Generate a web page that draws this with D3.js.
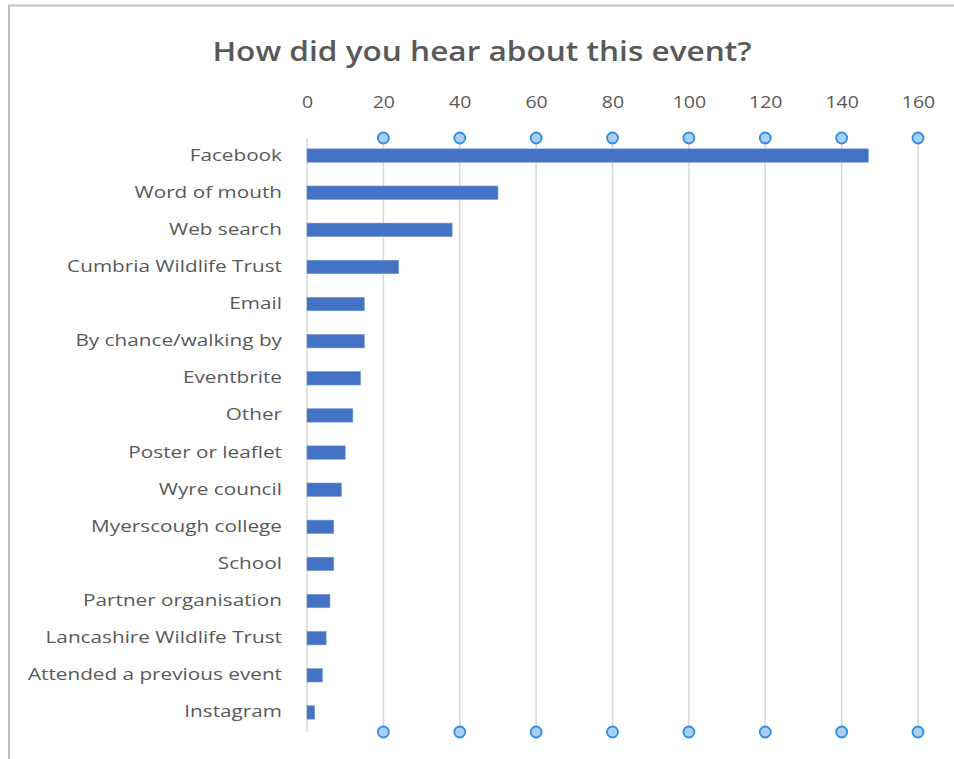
<!DOCTYPE html>
<html>
<head>
<meta charset="utf-8">
<script src="https://cdn.jsdelivr.net/npm/d3@7"></script>
<style>
  html, body { margin: 0; padding: 0; background: #fff; }
  svg { display: block; }
  text { font-family: "Open Sans", "Noto Sans", sans-serif; fill: #595959; }
</style>
</head>
<body>
<svg id="chart" width="954" height="759"></svg>
<script>
const title = "How did you hear about this event?";
const categories = [
  "Facebook", "Word of mouth", "Web search", "Cumbria Wildlife Trust", "Email",
  "By chance/walking by", "Eventbrite", "Other", "Poster or leaflet", "Wyre council ",
  "Myerscough college", "School", "Partner organisation", "Lancashire Wildlife Trust",
  "Attended a previous event", "Instagram"
];
const values = [147, 50, 38, 24, 15, 15, 14, 12, 10, 9, 7, 7, 6, 5, 4, 2];
const tickValues = [0, 20, 40, 60, 80, 100, 120, 140, 160];
const markerTicks = [20, 40, 60, 80, 100, 120, 140, 160];

const svg = d3.select("#chart");
const margin = { left: 307, right: 36, top: 138, bottom: 27 };
const W = 954, H = 759;
const stretch = 1.22; // reference text is horizontally wide

// frame
svg.append("path")
  .attr("d", `M9,${H} V5.5 H${W}`)
  .attr("fill", "none").attr("stroke", "#bfbfbf").attr("stroke-width", 2);

const x = d3.scaleLinear().domain([0, 160]).range([margin.left, W - margin.right]);
const y = d3.scaleBand().domain(categories).range([margin.top, H - margin.bottom])
  .paddingInner(0.64).paddingOuter(0.32);

// title
svg.append("g").attr("transform", `translate(482,61) scale(1.17,1)`)
  .append("text")
  .attr("text-anchor", "middle")
  .style("font-size", "27px").style("font-weight", 600)
  .text(title);

// gridlines
svg.append("g").selectAll("line").data(markerTicks).join("line")
  .attr("x1", d => x(d)).attr("x2", d => x(d))
  .attr("y1", margin.top).attr("y2", H - margin.bottom)
  .attr("stroke", "#d9d9d9").attr("stroke-width", 1.5);

// left category axis line
svg.append("line")
  .attr("x1", x(0)).attr("x2", x(0))
  .attr("y1", margin.top).attr("y2", H - margin.bottom)
  .attr("stroke", "#d9d9d9").attr("stroke-width", 1.5);

// top value axis
const xAxis = d3.axisTop(x).tickValues(tickValues).tickSize(0).tickPadding(0);
const gx = svg.append("g").attr("transform", `translate(0,108)`).call(xAxis);
gx.select(".domain").remove();
gx.selectAll("text").style("font-size", "16.5px").style("fill", "#595959")
  .style("font-family", "'Open Sans', sans-serif")
  .attr("transform", `scale(1.18,1)`);

// category axis labels
const yAxis = d3.axisLeft(y).tickSize(0).tickPadding(25);
const gy = svg.append("g").attr("transform", `translate(${x(0)},0)`).call(yAxis);
gy.select(".domain").remove();
gy.selectAll("text").style("font-size", "17px").style("fill", "#595959")
  .style("font-family", "'Open Sans', sans-serif")
  .attr("x", null)
  .attr("transform", `translate(-25,-1.5) scale(${stretch},1)`);

// bars
svg.append("g").selectAll("rect").data(categories).join("rect")
  .attr("x", x(0))
  .attr("y", d => y(d) - 1)
  .attr("width", (d, i) => x(values[i]) - x(0))
  .attr("height", y.bandwidth())
  .attr("fill", "#4472c4")
  .attr("stroke", "#6f93d4").attr("stroke-width", 0.6);

// circle markers top and bottom
const markers = [];
markerTicks.forEach(t => { markers.push({ t, yy: margin.top }); markers.push({ t, yy: H - margin.bottom }); });
svg.append("g").selectAll("circle").data(markers).join("circle")
  .attr("cx", d => x(d.t)).attr("cy", d => d.yy)
  .attr("r", 5.5)
  .attr("fill", "#a9cff5").attr("stroke", "#2f8de4").attr("stroke-width", 1.8);
</script>
</body>
</html>
